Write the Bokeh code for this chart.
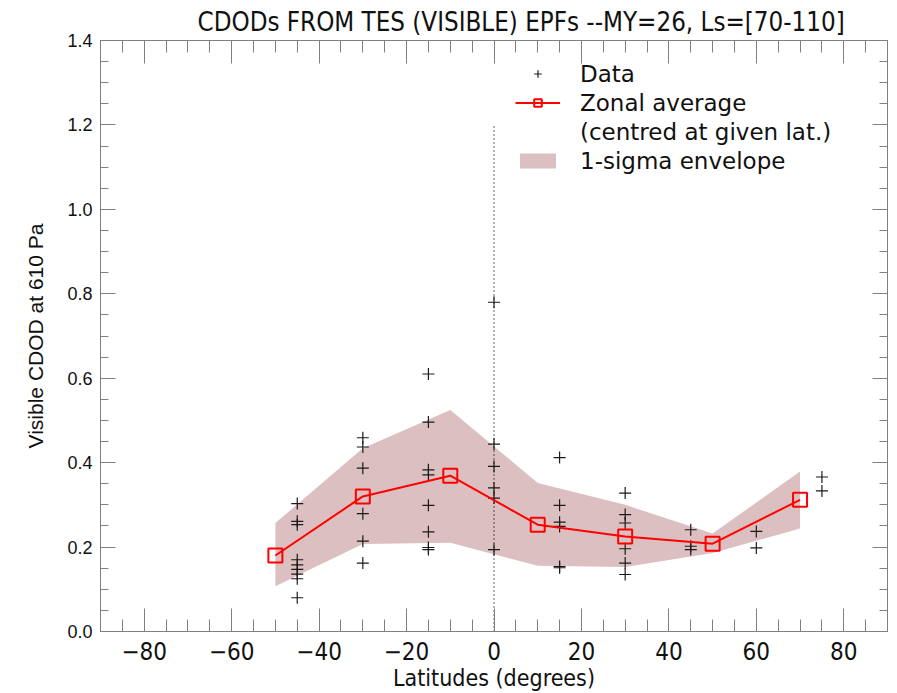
import numpy as np
from bokeh.plotting import figure
from bokeh.models import (LinearAxis, FixedTicker, PrintfTickFormatter, Legend,
                          LegendItem, Range1d)
from bokeh.embed import file_html
from bokeh.resources import INLINE

# Individual CDOD retrievals, grouped by latitude
lat_m45 = [0.303, 0.261, 0.253, 0.170, 0.158, 0.147, 0.136, 0.125, 0.080]
lat_m30 = [0.459, 0.437, 0.387, 0.279, 0.214, 0.162]
lat_m15 = [0.610, 0.496, 0.383, 0.371, 0.299, 0.236, 0.199, 0.194]
lat_0 = [0.780, 0.444, 0.391, 0.340, 0.316, 0.194]
lat_15 = [0.412, 0.299, 0.259, 0.249, 0.154, 0.151]
lat_30 = [0.328, 0.277, 0.257, 0.196, 0.162, 0.135]
lat_45 = [0.241, 0.202, 0.194]
lat_60 = [0.237, 0.198]
lat_75 = [0.366, 0.333]

groups = {-45: lat_m45, -30: lat_m30, -15: lat_m15, 0: lat_0, 15: lat_15,
          30: lat_30, 45: lat_45, 60: lat_60, 75: lat_75}

# Zonal average and 1-sigma envelope, centred on bin latitude
zonal_lat = [-50, -30, -10, 10, 30, 50, 70]
zonal_mean = [0.180, 0.320, 0.369, 0.253, 0.225, 0.208, 0.312]
env_upper = [0.257, 0.434, 0.525, 0.352, 0.300, 0.232, 0.379]
env_lower = [0.107, 0.207, 0.210, 0.156, 0.153, 0.186, 0.244]

# Equator marker
eq_lat = [0]
eq_bottom = [0.0]
eq_top = [1.2]

x_major = list(range(-80, 81, 20))
x_minor = list(range(-90, 91, 5))
y_major = [round(v, 2) for v in np.arange(0, 1.41, 0.2)]
y_minor = [round(v, 2) for v in np.arange(0, 1.41, 0.05)]

pts_x = [lat for lat, vals in groups.items() for _ in vals]
pts_y = [v for vals in groups.values() for v in vals]

title_text = "CDODs FROM TES (VISIBLE) EPFs --MY=26, Ls=[70-110]"
narrow = "DejaVu Sans Condensed"
ink = "#111111"

p = figure(width=897, height=693, x_range=Range1d(-90, 90), y_range=Range1d(0, 1.4),
           output_backend="svg", toolbar_location=None,
           min_border_left=100, min_border_right=10, min_border_top=40,
           min_border_bottom=61)
p.xgrid.visible = False
p.ygrid.visible = False
p.outline_line_color = "#888888"

p.title.text = title_text
p.title.text_font = narrow
p.title.text_font_size = "25.7px"
p.title.text_font_style = "normal"
p.title.align = "left"
p.title.offset = 97
p.title.standoff = 8
p.title.text_color = ink

r_env = p.varea(x=zonal_lat, y1=env_lower, y2=env_upper, fill_color="#dcbfc0", fill_alpha=1.0)
p.segment(x0=eq_lat, y0=eq_bottom, x1=eq_lat, y1=eq_top, line_color="black",
          line_dash="1 3", line_width=1.2)
r_pts = p.scatter(pts_x, pts_y, marker="cross", size=12, line_color="#1a1a1a",
                  line_width=1.2)
r_line = p.line(zonal_lat, zonal_mean, line_color="red", line_width=2)
r_sq = p.scatter(zonal_lat, zonal_mean, marker="square", size=14, fill_color=None,
                 line_color="red", line_width=2)
r_blank = p.scatter([], [], marker="cross", size=1, line_alpha=0, fill_alpha=0)

tick_col = "#808080"


def style_axis(ax, major, minor, maj_len, min_len):
    ax.ticker = FixedTicker(ticks=major, minor_ticks=minor)
    ax.axis_line_color = tick_col
    ax.major_tick_line_color = tick_col
    ax.minor_tick_line_color = tick_col
    ax.major_tick_in = maj_len
    ax.major_tick_out = 0
    ax.minor_tick_in = min_len
    ax.minor_tick_out = 0
    ax.major_label_text_color = ink
    ax.axis_label_text_color = ink


def mute_labels(ax):
    ax.major_label_text_color = None
    ax.major_label_text_font_size = "0px"
    ax.major_label_standoff = 0
    ax.axis_label_standoff = 0


xb = p.xaxis[0]
style_axis(xb, x_major, x_minor, 23, 12)
xb.axis_label = "Latitudes (degrees)"
xb.axis_label_text_font = narrow
xb.axis_label_text_font_size = "23px"
xb.axis_label_text_font_style = "normal"
xb.axis_label_standoff = 2
xb.major_label_text_font = narrow
xb.major_label_text_font_size = "24px"
xb.major_label_standoff = 10

yl = p.yaxis[0]
style_axis(yl, y_major, y_minor, 15, 8)
yl.formatter = PrintfTickFormatter(format="%.1f")
yl.axis_label = "Visible CDOD at 610 Pa"
yl.axis_label_text_font = "Liberation Sans"
yl.axis_label_text_font_size = "21px"
yl.axis_label_text_font_style = "normal"
yl.axis_label_standoff = 17
yl.major_label_text_font = "Liberation Sans"
yl.major_label_text_font_size = "18px"
yl.major_label_standoff = 8

xt = LinearAxis()
style_axis(xt, x_major, x_minor, 23, 12)
mute_labels(xt)
p.add_layout(xt, "above")

yr = LinearAxis()
style_axis(yr, y_major, y_minor, 15, 8)
mute_labels(yr)
p.add_layout(yr, "right")

legend = Legend(items=[
    LegendItem(label="Data", renderers=[r_pts]),
    LegendItem(label="Zonal average", renderers=[r_line, r_sq]),
    LegendItem(label="(centred at given lat.)", renderers=[r_blank]),
    LegendItem(label="1-sigma envelope", renderers=[r_env]),
], location=(415, 456))
legend.glyph_width = 45
legend.glyph_height = 19
legend.label_height = 29
legend.spacing = 0
legend.padding = 0
legend.margin = 0
legend.label_standoff = 20
legend.border_line_alpha = 0
legend.background_fill_alpha = 0
legend.label_text_font = "DejaVu Sans"
legend.label_text_font_size = "23px"
legend.label_text_color = ink
p.add_layout(legend)

open("out.html", "w").write(file_html(p, INLINE))
